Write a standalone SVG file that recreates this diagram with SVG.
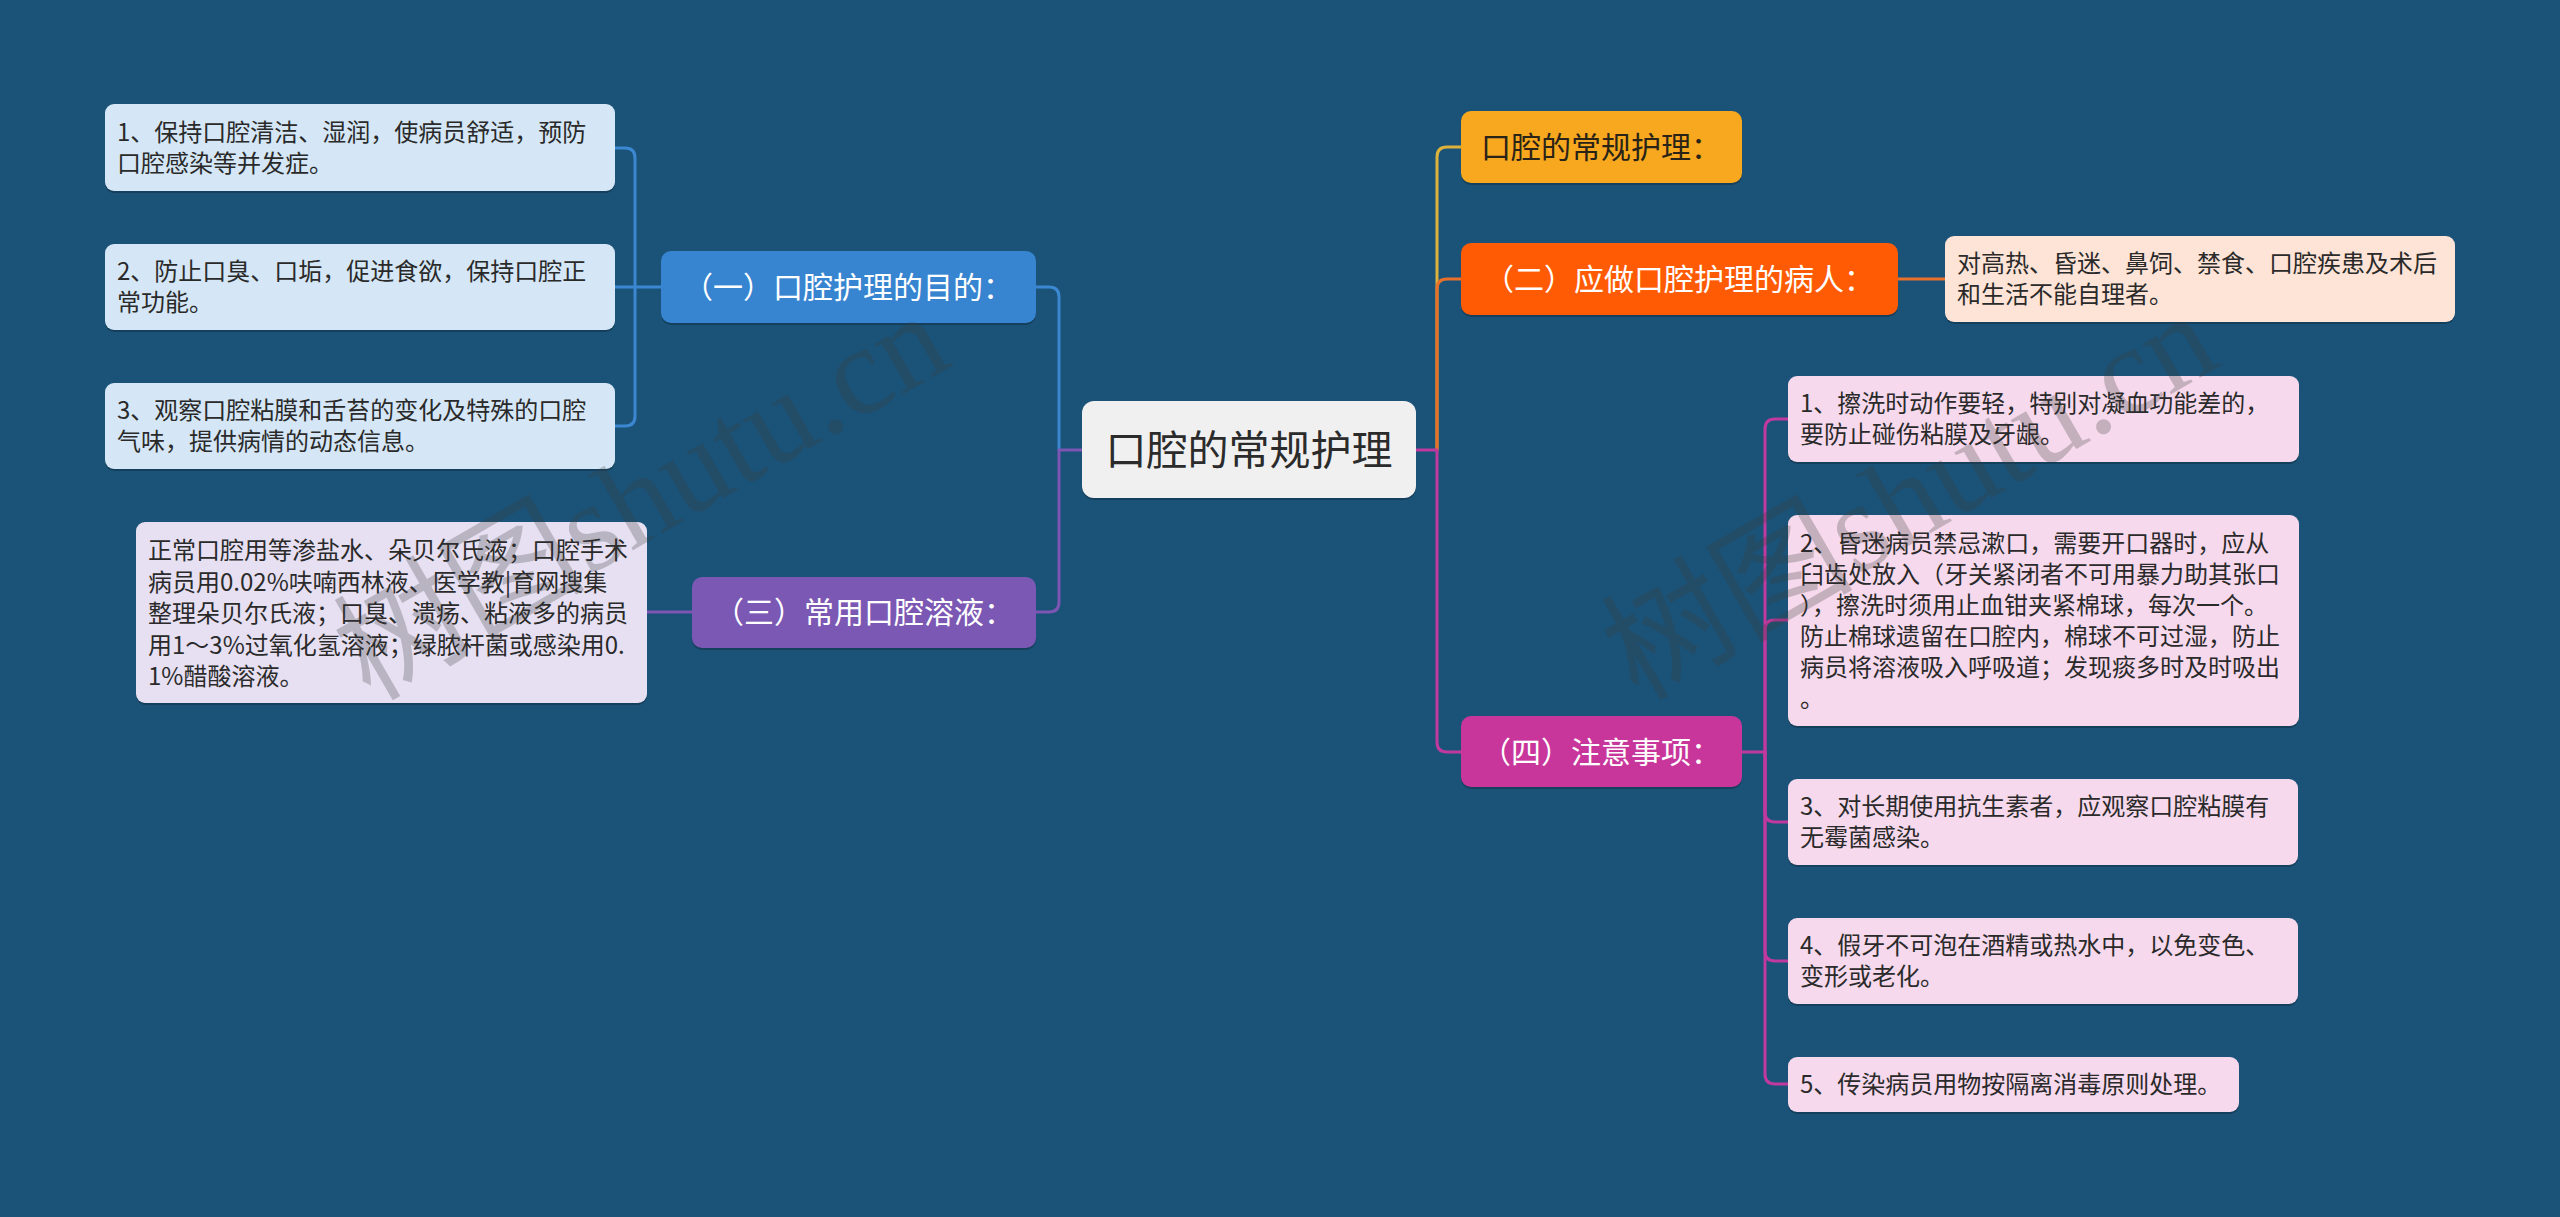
<svg xmlns="http://www.w3.org/2000/svg" width="2560" height="1217" viewBox="0 0 2560 1217">
<defs>
<style>
.bg{fill:#1b5378}
.ln{fill:none;stroke-width:3;stroke-linecap:round;stroke-linejoin:round}
.sh{fill:#000;opacity:0.22}
.t{font-family:"Noto Sans CJK SC","Noto Sans",sans-serif}
.leaf{font-size:24px;fill:#2a2a2a}
.main{font-size:30px;text-anchor:middle}
.wm{font-family:"Liberation Serif","Noto Sans CJK SC",serif;font-size:126px;fill:#3a3a3a;opacity:0.26}
</style>
</defs>
<rect class="bg" x="0" y="0" width="2560" height="1217"/>

<g id="connectors">
<path class="ln" stroke="#3b87d2" d="M1059,450 V297 Q1059,287 1049,287 H1036"/>
<path class="ln" stroke="#7d55b3" d="M1082,450 H1059 V602 Q1059,612 1049,612 H1036"/>
<path class="ln" stroke="#3b87d2" d="M661,287 H615"/>
<path class="ln" stroke="#3b87d2" d="M635,287 V158 Q635,148 625,148 H615"/>
<path class="ln" stroke="#3b87d2" d="M635,287 V416 Q635,426 625,426 H615"/>
<path class="ln" stroke="#7d55b3" d="M692,612 H647"/>
<path class="ln" stroke="#dcb23c" d="M1437,450 V157 Q1437,147 1447,147 H1461"/>
<path class="ln" stroke="#e8702a" d="M1437,450 V289 Q1437,279 1447,279 H1461"/>
<path class="ln" stroke="#e8702a" d="M1898,279 H1945"/>
<path class="ln" stroke="#c0399c" d="M1416,450 H1437 V742 Q1437,752 1447,752 H1461"/>
<path class="ln" stroke="#c0399c" d="M1742,752 H1765"/>
<path class="ln" stroke="#c0399c" d="M1765,752 V429 Q1765,419 1775,419 H1788"/>
<path class="ln" stroke="#c0399c" d="M1765,752 V630 Q1765,620 1775,620 H1788"/>
<path class="ln" stroke="#c0399c" d="M1765,752 V812 Q1765,822 1775,822 H1788"/>
<path class="ln" stroke="#c0399c" d="M1765,752 V951 Q1765,961 1775,961 H1788"/>
<path class="ln" stroke="#c0399c" d="M1765,752 V1074 Q1765,1084 1775,1084 H1788"/>
</g>

<g id="root">
<rect class="sh" x="1082" y="403" width="334" height="97" rx="12"/>
<rect x="1082" y="401" width="334" height="97" rx="12" fill="#f0f0f0"/>
<text class="t" x="1249" y="465" font-size="41" text-anchor="middle" fill="#2b2b2b">口腔的常规护理</text>
</g>

<g id="b1">
<rect class="sh" x="661" y="253" width="375" height="72" rx="10"/>
<rect x="661" y="251" width="375" height="72" rx="10" fill="#3784d0"/>
<text class="t main" x="848" y="298" fill="#ffffff">（一）口腔护理的目的：</text>
</g>
<g id="b1-1">
<rect class="sh" x="105" y="106" width="510" height="87" rx="9"/>
<rect x="105" y="104" width="510" height="87" rx="9" fill="#d5e7f6"/>
<text class="t leaf"><tspan x="117" y="141">1、保持口腔清洁、湿润，使病员舒适，预防</tspan><tspan x="117" y="172">口腔感染等并发症。</tspan></text>
</g>
<g id="b1-2">
<rect class="sh" x="105" y="246" width="510" height="86" rx="9"/>
<rect x="105" y="244" width="510" height="86" rx="9" fill="#d5e7f6"/>
<text class="t leaf"><tspan x="117" y="280">2、防止口臭、口垢，促进食欲，保持口腔正</tspan><tspan x="117" y="311">常功能。</tspan></text>
</g>
<g id="b1-3">
<rect class="sh" x="105" y="385" width="510" height="86" rx="9"/>
<rect x="105" y="383" width="510" height="86" rx="9" fill="#d5e7f6"/>
<text class="t leaf"><tspan x="117" y="419">3、观察口腔粘膜和舌苔的变化及特殊的口腔</tspan><tspan x="117" y="450">气味，提供病情的动态信息。</tspan></text>
</g>

<g id="b3">
<rect class="sh" x="692" y="579" width="344" height="71" rx="10"/>
<rect x="692" y="577" width="344" height="71" rx="10" fill="#7b58b3"/>
<text class="t main" x="864" y="623" fill="#ffffff">（三）常用口腔溶液：</text>
</g>
<g id="b3-1">
<rect class="sh" x="136" y="524" width="511" height="181" rx="9"/>
<rect x="136" y="522" width="511" height="181" rx="9" fill="#e6e0f2"/>
<text class="t leaf"><tspan x="148" y="559">正常口腔用等渗盐水、朵贝尔氏液；口腔手术</tspan><tspan x="148" y="590.5">病员用0.02%呋喃西林液、医学教|育网搜集</tspan><tspan x="148" y="622">整理朵贝尔氏液；口臭、溃疡、粘液多的病员</tspan><tspan x="148" y="653.5">用1～3%过氧化氢溶液；绿脓杆菌或感染用0.</tspan><tspan x="148" y="685">1%醋酸溶液。</tspan></text>
</g>

<g id="a0">
<rect class="sh" x="1461" y="113" width="281" height="72" rx="10"/>
<rect x="1461" y="111" width="281" height="72" rx="10" fill="#f7a81e"/>
<text class="t main" x="1601" y="158" fill="#2a2318">口腔的常规护理：</text>
</g>

<g id="b2">
<rect class="sh" x="1461" y="245" width="437" height="72" rx="10"/>
<rect x="1461" y="243" width="437" height="72" rx="10" fill="#ff5b05"/>
<text class="t main" x="1679" y="290" fill="#ffffff">（二）应做口腔护理的病人：</text>
</g>
<g id="b2-1">
<rect class="sh" x="1945" y="238" width="510" height="86" rx="9"/>
<rect x="1945" y="236" width="510" height="86" rx="9" fill="#fde4d7"/>
<text class="t leaf"><tspan x="1957" y="272">对高热、昏迷、鼻饲、禁食、口腔疾患及术后</tspan><tspan x="1957" y="303">和生活不能自理者。</tspan></text>
</g>

<g id="b4">
<rect class="sh" x="1461" y="718" width="281" height="71" rx="10"/>
<rect x="1461" y="716" width="281" height="71" rx="10" fill="#c8369b"/>
<text class="t main" x="1601" y="763" fill="#ffffff">（四）注意事项：</text>
</g>
<g id="b4-1">
<rect class="sh" x="1788" y="378" width="511" height="86" rx="9"/>
<rect x="1788" y="376" width="511" height="86" rx="9" fill="#f6d9ec"/>
<text class="t leaf"><tspan x="1800" y="412">1、擦洗时动作要轻，特别对凝血功能差的，</tspan><tspan x="1800" y="443">要防止碰伤粘膜及牙龈。</tspan></text>
</g>
<g id="b4-2">
<rect class="sh" x="1788" y="517" width="511" height="211" rx="9"/>
<rect x="1788" y="515" width="511" height="211" rx="9" fill="#f6d9ec"/>
<text class="t leaf"><tspan x="1800" y="552">2、昏迷病员禁忌漱口，需要开口器时，应从</tspan><tspan x="1800" y="583">臼齿处放入（牙关紧闭者不可用暴力助其张口</tspan><tspan x="1800" y="614">），擦洗时须用止血钳夹紧棉球，每次一个。</tspan><tspan x="1800" y="645">防止棉球遗留在口腔内，棉球不可过湿，防止</tspan><tspan x="1800" y="676">病员将溶液吸入呼吸道；发现痰多时及时吸出</tspan><tspan x="1800" y="707">。</tspan></text>
</g>
<g id="b4-3">
<rect class="sh" x="1788" y="781" width="510" height="86" rx="9"/>
<rect x="1788" y="779" width="510" height="86" rx="9" fill="#f6d9ec"/>
<text class="t leaf"><tspan x="1800" y="815">3、对长期使用抗生素者，应观察口腔粘膜有</tspan><tspan x="1800" y="846">无霉菌感染。</tspan></text>
</g>
<g id="b4-4">
<rect class="sh" x="1788" y="920" width="510" height="86" rx="9"/>
<rect x="1788" y="918" width="510" height="86" rx="9" fill="#f6d9ec"/>
<text class="t leaf"><tspan x="1800" y="954">4、假牙不可泡在酒精或热水中，以免变色、</tspan><tspan x="1800" y="985">变形或老化。</tspan></text>
</g>
<g id="b4-5">
<rect class="sh" x="1788" y="1059" width="451" height="55" rx="9"/>
<rect x="1788" y="1057" width="451" height="55" rx="9" fill="#f6d9ec"/>
<text class="t leaf"><tspan x="1800" y="1093">5、传染病员用物按隔离消毒原则处理。</tspan></text>
</g>

<g id="watermarks">
<text class="wm" transform="translate(370,702) rotate(-30)">树图shutu.cn</text>
<text class="wm" transform="translate(1638,702) rotate(-30)">树图shutu.cn</text>
</g>
</svg>
